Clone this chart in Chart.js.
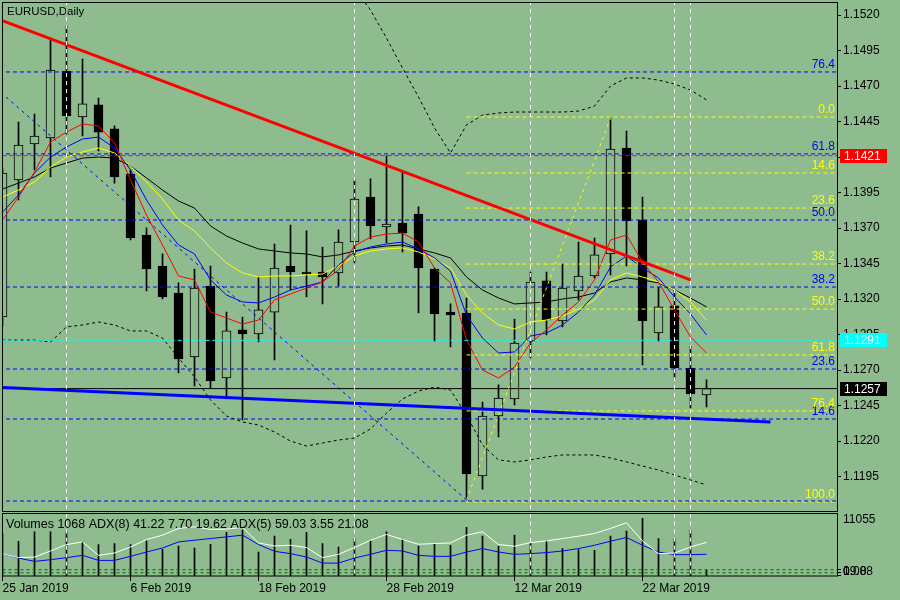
<!DOCTYPE html>
<html>
<head>
<meta charset="utf-8">
<script src="https://cdn.jsdelivr.net/npm/chart.js@4.4.0/dist/chart.umd.min.js"></script>
<style>
  html, body { margin: 0; padding: 0; background: #8fbc8f; }
  #wrap { position: relative; width: 900px; height: 600px; overflow: hidden; }
  canvas { position: absolute; left: 0; }
  #priceChart { top: 0; }
  #volChart { top: 512px; }
</style>
</head>
<body>
<div id="wrap">
  <canvas id="priceChart" width="900" height="512"></canvas>
  <canvas id="volChart" width="900" height="88"></canvas>
</div>
<script>
// ---- data (25 Jan - 28 Mar 2019) ----
const chartTitle = 'EURUSD,Daily';
const volTitle = 'Volumes 1068 ADX(8) 41.22 7.70 19.62 ADX(5) 59.03 3.55 21.08';

const dateLabels = ['25 Jan 2019', '6 Feb 2019', '18 Feb 2019', '28 Feb 2019', '12 Mar 2019', '22 Mar 2019'];
const dateTickBars = [0, 8, 16, 24, 32, 40];

const priceTicks = [1.1195, 1.1220, 1.1245, 1.1270, 1.1295, 1.1320, 1.1345, 1.1370,
                    1.1395, 1.1420, 1.1445, 1.1470, 1.1495, 1.1520];
const priceMin = 1.117085;
const priceMax = 1.152845;

const opens  = [1.13074, 1.14039, 1.14292, 1.14334, 1.14806, 1.14482, 1.14567, 1.14398, 1.14081, 1.13651,
                1.13433, 1.13243, 1.12793, 1.13292, 1.12645, 1.12983, 1.12955, 1.13109, 1.13433, 1.13391,
                1.13391, 1.13384, 1.13602, 1.13919, 1.13708, 1.13736, 1.13799, 1.13412, 1.13109, 1.13102,
                1.11955, 1.12377, 1.12497, 1.12905, 1.13328, 1.13046, 1.13257, 1.13363, 1.13518, 1.14264,
                1.13757, 1.12962, 1.13152, 1.12715, 1.12525];
const highs  = [1.14123, 1.14447, 1.14503, 1.15038, 1.15123, 1.14890, 1.14616, 1.14419, 1.14109, 1.13701,
                1.13518, 1.13314, 1.13412, 1.13433, 1.13109, 1.13074, 1.13356, 1.13588, 1.13722, 1.13680,
                1.13567, 1.13687, 1.14039, 1.14046, 1.14208, 1.14095, 1.13849, 1.13419, 1.13166, 1.13208,
                1.12476, 1.12596, 1.13060, 1.13391, 1.13391, 1.13447, 1.13602, 1.13630, 1.14475, 1.14383,
                1.13919, 1.13285, 1.13271, 1.12870, 1.12631];
const lows   = [1.13011, 1.13898, 1.14109, 1.14060, 1.14362, 1.14348, 1.14243, 1.14017, 1.13616, 1.13257,
                1.13201, 1.12680, 1.12589, 1.12574, 1.12511, 1.12349, 1.12898, 1.12772, 1.13264, 1.13215,
                1.13166, 1.13292, 1.13454, 1.13623, 1.13595, 1.13532, 1.13102, 1.12905, 1.12863, 1.11786,
                1.11863, 1.12230, 1.12455, 1.12786, 1.12948, 1.13004, 1.13194, 1.13349, 1.13370, 1.13433,
                1.12736, 1.12905, 1.12645, 1.12434, 1.12441];
const closes = [1.14088, 1.14285, 1.14348, 1.14813, 1.14489, 1.14574, 1.14376, 1.14060, 1.13630, 1.13412,
                1.13215, 1.12779, 1.13278, 1.12624, 1.12976, 1.12955, 1.13124, 1.13419, 1.13391, 1.13377,
                1.13356, 1.13602, 1.13905, 1.13715, 1.13729, 1.13665, 1.13419, 1.13095, 1.13088, 1.11969,
                1.12377, 1.12504, 1.12891, 1.13320, 1.13053, 1.13278, 1.13363, 1.13511, 1.14257, 1.13750,
                1.13046, 1.13145, 1.12715, 1.12532, 1.12570];

// moving averages and bands
const maRed    = [1.13757, 1.13919, 1.14095, 1.14306, 1.14376, 1.14433, 1.14419, 1.14299, 1.14039, 1.13792,
                  1.13581, 1.13363, 1.13335, 1.13109, 1.13067, 1.13025, 1.13053, 1.13194, 1.13236, 1.13278,
                  1.13321, 1.13405, 1.13574, 1.13637, 1.13658, 1.13665, 1.13602, 1.13419, 1.13314, 1.12912,
                  1.12701, 1.12645, 1.12722, 1.12891, 1.12983, 1.13088, 1.13180, 1.13335, 1.13616, 1.13651,
                  1.13461, 1.13321, 1.13124, 1.12933, 1.12821];
const maBlue   = [1.13813, 1.13933, 1.14088, 1.14200, 1.14271, 1.14327, 1.14341, 1.14264, 1.14109, 1.13898,
                  1.13722, 1.13581, 1.13518, 1.13335, 1.13229, 1.13180, 1.13173, 1.13215, 1.13264, 1.13292,
                  1.13321, 1.13440, 1.13532, 1.13567, 1.13588, 1.13602, 1.13553, 1.13490, 1.13398, 1.13088,
                  1.12926, 1.12821, 1.12828, 1.12940, 1.12962, 1.13018, 1.13109, 1.13229, 1.13426, 1.13504,
                  1.13419, 1.13349, 1.13215, 1.13095, 1.12948];
const maYellow = [1.13919, 1.13968, 1.14025, 1.14130, 1.14200, 1.14236, 1.14264, 1.14229, 1.14137, 1.14025,
                  1.13905, 1.13757, 1.13680, 1.13560, 1.13454, 1.13384, 1.13356, 1.13363, 1.13363, 1.13370,
                  1.13377, 1.13433, 1.13504, 1.13539, 1.13553, 1.13560, 1.13532, 1.13482, 1.13419, 1.13229,
                  1.13102, 1.13018, 1.12990, 1.13039, 1.13053, 1.13081, 1.13130, 1.13194, 1.13335, 1.13384,
                  1.13356, 1.13321, 1.13264, 1.13180, 1.13053];
const maBlack  = [1.13975, 1.14017, 1.14060, 1.14123, 1.14158, 1.14193, 1.14200, 1.14193, 1.14137, 1.14053,
                  1.13968, 1.13891, 1.13841, 1.13715, 1.13644, 1.13595, 1.13553, 1.13539, 1.13525, 1.13518,
                  1.13497, 1.13511, 1.13539, 1.13560, 1.13574, 1.13581, 1.13553, 1.13525, 1.13490, 1.13356,
                  1.13264, 1.13208, 1.13166, 1.13173, 1.13180, 1.13201, 1.13215, 1.13243, 1.13321, 1.13349,
                  1.13335, 1.13314, 1.13264, 1.13208, 1.13145];
const bandUpper = [null, null, null, null, null, null, null, null, null, null,
                   null, null, null, null, null, null, null, null, null, null,
                   null, null, 1.15390, 1.15235, 1.15038, 1.14827, 1.14623, 1.14405, 1.14229, 1.14426,
                   1.14496, 1.14510, 1.14517, 1.14517, 1.14517, 1.14517, 1.14524, 1.14559, 1.14700, 1.14757,
                   1.14757, 1.14742, 1.14714, 1.14672, 1.14602];
const bandLower = [1.12912, 1.12912, 1.12912, 1.12898, 1.13004, 1.13018, 1.13039, 1.13018, 1.12976, 1.12976,
                   1.12926, 1.12786, 1.12652, 1.12490, 1.12377, 1.12335, 1.12314, 1.12265, 1.12201, 1.12166,
                   1.12187, 1.12208, 1.12222, 1.12286, 1.12398, 1.12497, 1.12553, 1.12581, 1.12560, 1.12384,
                   1.12173, 1.12068, 1.12054, 1.12068, 1.12089, 1.12103, 1.12103, 1.12103, 1.12082, 1.12054,
                   1.12025, 1.11997, 1.11962, 1.11927, 1.11892];

// fibonacci levels
const blueFibLabels  = ['', '14.6', '23.6', '38.2', '50.0', '61.8', '76.4'];
const blueFibPrices  = [1.11779, 1.12356, 1.12708, 1.13285, 1.13757, 1.14222, 1.14799];
const blueFibStart   = 0.22;
const yellowFibLabels = ['0.0', '14.6', '23.6', '38.2', '50.0', '61.8', '76.4', '100.0'];
const yellowFibPrices = [1.14482, 1.14088, 1.13841, 1.13447, 1.13130, 1.12807, 1.12413, 1.11772];
const yellowFibStart  = 29;

// horizontal lines and price tags
const alertPrice = 1.1421;
const cyanPrice = 1.1291;
const bidPrice = 1.1257;

// trend lines: [bar, price] pairs
const redTrendBars = [0.03, 43];      const redTrendPrices = [1.15158, 1.13335];
const blueTrendBars = [0.03, 48];     const blueTrendPrices = [1.12577, 1.12335];
const blueDiagBars = [0.22, 29];      const blueDiagPrices = [1.14623, 1.11786];
const yellowDiagBars = [29, 38];      const yellowDiagPrices = [1.11786, 1.14475];

const vLineBars = [4, 22, 33, 42, 43];

// lower window
const volumes = [7500, 6151, 7810, 7810, 7810, 6027, 5563, 5741, 5563, 6205,
                 4725, 5313, 4957, 5616, 7703, 8113, 4244, 7043, 6508, 7703,
                 5741, 5135, 6633, 6205, 7810, 6508, 5313, 5616, 5438, 8594,
                 7043, 5260, 7221, 5741, 6205, 4850, 4671, 4547, 7043, 7934,
                 10199, 6633, 6633, 8113, 1068];
const adxFast = [42.16, 36.07, 36.99, 46.12, 55.86, 59.82, 39.57, 43.07, 52.21, 63.47,
                 70.02, 80.21, 82.65, 78.69, 79.15, 81.74, 58.30, 53.73, 54.79, 51.29,
                 36.07, 41.10, 51.29, 62.40, 71.08, 63.47, 56.32, 57.38, 58.30, 70.02,
                 75.04, 55.86, 53.27, 58.90, 61.34, 64.99, 68.49, 72.60, 80.21, 88.74,
                 61.34, 42.16, 43.07, 52.21, 59.03];
const adxSlow = [42.16, 35.46, 30.44, 33.03, 36.07, 39.57, 31.96, 31.96, 38.05, 44.60,
                 50.68, 59.82, 62.40, 64.99, 67.43, 70.02, 55.86, 45.66, 42.16, 36.99,
                 27.85, 27.85, 35.46, 41.10, 47.18, 46.12, 39.57, 38.05, 38.05, 44.60,
                 49.77, 44.60, 41.10, 42.16, 43.68, 46.12, 49.77, 54.79, 60.88, 66.51,
                 54.79, 44.60, 40.64, 40.64, 41.22];
const adxLevels = [17.8, 13.2];
const volTickLabels = ['11055'];
const adxTickLabels = ['19.88', '0.00', '0'];

// ---- drawing ----
const BG = '#8fbc8f';
const FONT = '"Liberation Sans", Arial, sans-serif';
const xMax = 52.156;

const pts = arr => arr.map((v, i) => ({ x: i, y: v })).filter(p => p.y !== null);
const seg = (xs, ys) => xs.map((x, i) => ({ x: x, y: ys[i] }));
const hLine = (p, x0) => [{ x: x0, y: p }, { x: xMax, y: p }];

function line(data, color, width, dash, order, yAxisID) {
  return { type: 'line', data, borderColor: color, borderWidth: width, borderDash: dash || [],
           pointRadius: 0, fill: false, tension: 0, order, yAxisID: yAxisID || 'y' };
}

const priceSets = [];
vLineBars.forEach(b => priceSets.push(line(hLine(0, 0).map((p, k) => ({ x: b, y: k ? priceMax + 0.01 : priceMin - 0.01 })), '#ffffff', 1, [4, 4], 1)));
priceSets.push(line(seg(redTrendBars, redTrendPrices), '#ff0000', 3, null, 2));
priceSets.push(line(seg(blueTrendBars, blueTrendPrices), '#0000ff', 3, null, 2));
priceSets.push(line(seg(blueDiagBars, blueDiagPrices), '#0000ff', 1, [3, 4], 3));
priceSets.push(line(seg(yellowDiagBars, yellowDiagPrices), '#ffff00', 1, [3, 4], 3));
priceSets.push(line(hLine(bidPrice, 0), '#000000', 1, null, 4));
priceSets.push(line(hLine(alertPrice, 0), '#ff0000', 1, [4, 3], 4));
priceSets.push(line(hLine(cyanPrice, 0), '#00ffff', 1, [4, 3], 4));
blueFibPrices.forEach(p => priceSets.push(line(hLine(p, blueFibStart), '#0000ff', 1, [4, 3], 5)));
yellowFibPrices.forEach(p => priceSets.push(line(hLine(p, yellowFibStart), '#ffff00', 1, [4, 3], 5)));
priceSets.push(line(pts(maRed), '#ff0000', 1, null, 6));
priceSets.push(line(pts(maBlue), '#0000ff', 1, null, 6));
priceSets.push(line(pts(maYellow), '#ffff00', 1, null, 6));
priceSets.push(line(pts(maBlack), '#000000', 1, null, 6));
priceSets.push(line(pts(bandUpper), '#000000', 1, [3, 3], 7));
priceSets.push(line(pts(bandLower), '#000000', 1, [3, 3], 7));
priceSets.push({
  type: 'bar', order: 8, grouped: false, barThickness: 9, maxBarThickness: 9,
  data: opens.map((o, i) => ({ x: i, y: [o, closes[i]] })),
  backgroundColor: opens.map((o, i) => closes[i] > o ? BG : '#000000'),
  borderColor: '#000000', borderWidth: 1, borderSkipped: false
});
priceSets.push({
  type: 'bar', order: 9, grouped: false, barThickness: 1, maxBarThickness: 1,
  data: lows.map((l, i) => ({ x: i, y: [l, highs[i]] })),
  backgroundColor: '#000000', borderWidth: 0
});

const priceOverlay = {
  id: 'priceOverlay',
  afterDraw(chart) {
    const { ctx, chartArea: a, scales: { y } } = chart;
    ctx.save();
    ctx.strokeStyle = '#000'; ctx.lineWidth = 1;
    ctx.strokeRect(2.5, 2.5, 835, 509);
    ctx.font = '11.5px ' + FONT; ctx.fillStyle = '#000';
    ctx.textBaseline = 'middle'; ctx.textAlign = 'left';
    ctx.fillText(chartTitle, 7, 12);
    ctx.font = '12px ' + FONT; ctx.textAlign = 'right';
    blueFibPrices.forEach((p, i) => {
      if (!blueFibLabels[i]) return;
      ctx.fillStyle = '#0000ff';
      ctx.fillText(blueFibLabels[i], 835, y.getPixelForValue(p) - 7);
    });
    yellowFibPrices.forEach((p, i) => {
      ctx.fillStyle = '#ffff00';
      ctx.fillText(yellowFibLabels[i], 835, y.getPixelForValue(p) - 7);
    });
    // price tags on the axis
    ctx.textAlign = 'left';
    [[alertPrice, '#ff0000'], [cyanPrice, '#00ffff'], [bidPrice, '#000000']].forEach(([p, c]) => {
      const py = Math.round(y.getPixelForValue(p));
      ctx.fillStyle = c;
      ctx.fillRect(a.right + 3, py - 7, 47, 14);
      ctx.fillStyle = '#ffffff';
      ctx.fillText(p.toFixed(4), a.right + 7, py + 0.5);
    });
    ctx.restore();
  }
};

new Chart(document.getElementById('priceChart'), {
  type: 'bar',
  data: { datasets: priceSets },
  options: {
    responsive: false, animation: false, devicePixelRatio: 1,
    layout: { padding: { left: 2.5, right: 0, top: 3, bottom: 1 } },
    plugins: { legend: { display: false }, tooltip: { enabled: false } },
    scales: {
      x: { type: 'linear', min: 0, max: xMax, offset: false, display: false, grid: { offset: false } },
      y: {
        type: 'linear', position: 'right', min: priceMin, max: priceMax,
        border: { display: false },
        grid: { drawOnChartArea: false, drawTicks: true, tickLength: 4, color: '#000' },
        ticks: { padding: 2, color: '#000', font: { family: FONT, size: 12 }, callback: v => v.toFixed(4) },
        afterBuildTicks: s => { s.ticks = priceTicks.map(v => ({ value: v })); },
        afterFit: s => { s.width = 63; s.paddingTop = 0; s.paddingBottom = 0; }
      }
    }
  },
  plugins: [priceOverlay]
});

// ---- volumes / ADX window ----
const volSets = [];
vLineBars.forEach(b => volSets.push(line([{ x: b, y: -1000 }, { x: b, y: 12000 }], '#ffffff', 1, [4, 4], 1, 'vol')));
volSets.push(line(pts(adxFast), '#ffffff', 1, null, 2, 'adx'));
volSets.push(line(pts(adxSlow), '#0000ff', 1, null, 2, 'adx'));
adxLevels.forEach(v => volSets.push(line(hLine(v, 0), '#006400', 1, [3, 3], 3, 'adx')));
volSets.push({
  type: 'bar', order: 4, grouped: false, barThickness: 1, maxBarThickness: 1, yAxisID: 'vol',
  data: pts(volumes), backgroundColor: '#000000', borderWidth: 0
});

const volOverlay = {
  id: 'volOverlay',
  afterDraw(chart) {
    const { ctx, chartArea: a } = chart;
    ctx.save();
    ctx.strokeStyle = '#000'; ctx.lineWidth = 1;
    ctx.strokeRect(2.5, 1.5, 835, 62.5);
    ctx.fillStyle = '#000'; ctx.font = '12.5px ' + FONT;
    ctx.textBaseline = 'middle'; ctx.textAlign = 'left';
    ctx.fillText(volTitle, 6, 12.5);
    ctx.font = '12px ' + FONT;
    ctx.fillText(volTickLabels[0], a.right + 6, 8);
    adxTickLabels.forEach(t => ctx.fillText(t, a.right + 6, 60));
    ctx.beginPath();
    [57.5, 60.5, 63.5].forEach(v => { ctx.moveTo(a.right, v); ctx.lineTo(a.right + 4, v); });
    ctx.stroke();
    ctx.restore();
  }
};

new Chart(document.getElementById('volChart'), {
  type: 'bar',
  data: { datasets: volSets },
  options: {
    responsive: false, animation: false, devicePixelRatio: 1,
    layout: { padding: { left: 2.5, right: 0, top: 1.5, bottom: 0 } },
    plugins: { legend: { display: false }, tooltip: { enabled: false } },
    scales: {
      x: {
        type: 'linear', min: 0, max: xMax, offset: false, position: 'bottom',
        border: { display: false },
        grid: { drawOnChartArea: false, drawTicks: true, tickLength: 5, color: '#000', offset: false },
        ticks: { autoSkip: false, maxRotation: 0, align: 'start', padding: 0, color: '#000',
                 font: { family: FONT, size: 12 },
                 callback: v => { const k = dateTickBars.indexOf(v); return k < 0 ? '' : dateLabels[k]; } },
        afterBuildTicks: s => { s.ticks = dateTickBars.map(v => ({ value: v })); },
        afterFit: s => { s.height = 24; s.paddingLeft = 0; s.paddingRight = 0; }
      },
      vol: {
        type: 'linear', position: 'right', min: 0, max: 11055,
        border: { display: false }, grid: { display: false }, ticks: { display: false },
        afterFit: s => { s.width = 63; s.paddingTop = 0; s.paddingBottom = 0; }
      },
      adx: { type: 'linear', position: 'right', min: 8.37, max: 102.74, display: false }
    }
  },
  plugins: [volOverlay]
});
</script>
</body>
</html>
